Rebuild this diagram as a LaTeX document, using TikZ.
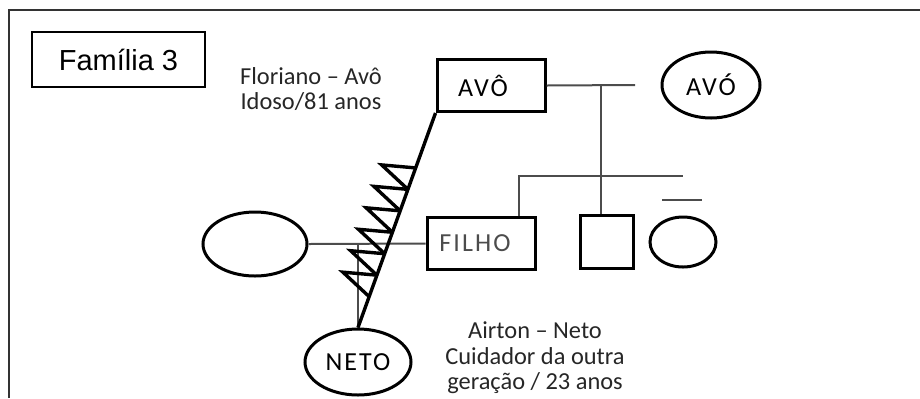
\documentclass[tikz,border=0pt]{standalone}
\usepackage{fontspec}
\setmainfont{Carlito}
\newfontfamily\arialfont{Liberation Sans}
\newfontfamily\labelfont[LetterSpace=8]{Carlito}
\usetikzlibrary{shapes.geometric,calc}

\begin{document}
\begin{tikzpicture}[
    x=0.5pt, y=-0.5pt,
    box/.style={draw, line width=1.5pt, minimum width=54pt, minimum height=26pt,
                inner sep=0pt, font=\labelfont\fontsize{13}{15}\selectfont},
    oval/.style={draw, ellipse, line width=1.5pt, inner sep=0pt,
                 font=\labelfont\fontsize{13}{15}\selectfont},
    rel/.style={draw=black!70, line width=1pt},
    bond/.style={line width=1.7pt},
    info/.style={align=center, text=black!85, font=\fontsize{12.2}{12.8}\selectfont}
]
    \useasboundingbox (0,0) rectangle (920,398);

    % moldura
    \draw[line width=1pt, black!80] (9,398) -- (9,9.5) -- (920,9.5);

    \node[draw, line width=0.6pt, minimum width=86.5pt, minimum height=27.5pt,
          font=\arialfont\fontsize{14.5}{17}\selectfont] (familia) at (118.5,59.5) {Família 3};

    \node[box]  (avo)    at (491,85.5)  {AVÔ\hspace*{8pt}};
    \node[oval, minimum width=49pt, minimum height=33pt] (ava) at (711,85) {AVÓ};
    \node[box, text=black!70] (filho) at (481,243.5) {FILHO\hspace*{6pt}};
    \node[box, minimum width=26.5pt, minimum height=26.5pt] (filho2) at (606.5,241.5) {};
    \node[oval, minimum width=33pt, minimum height=25pt] (filha) at (683,242) {};
    \node[oval, minimum width=52pt, minimum height=32pt] (esposa) at (255,244) {};
    \node[oval, minimum width=53pt, minimum height=33pt] (neto) at (358,362) {NETO};

    \node[info] (infoavo)  at (311,89)  {Floriano -- Avô\\Idoso/81 anos};
    \node[info] (infoneto) at (535,358) {Airton -- Neto\\Cuidador da outra\\geração / 23 anos};

    % casal e descendentes
    \coordinate (cpl)  at (635,85);
    \coordinate (desc) at (601,85);
    \coordinate (sibL) at (519,176);
    \coordinate (sibR) at (683,176);
    \draw[rel] (avo.east) -- (cpl);
    \draw[rel] (desc) -- (desc |- filho2.north);
    \draw[rel] (sibL |- filho.north) -- (sibL) -- (sibR);
    \draw[rel] ($(filha.north)+(-21,-16)$) -- ($(filha.north)+(19,-16)$);

    \draw[rel] (esposa.east) -- (filho.west);
    \draw[rel] (esposa.east -| neto.north) -- (neto.north);

    % relacao avo - neto
    \draw[bond] (avo.south west) -- (neto.north);
    \foreach \i in {0,...,5} {
        \pgfmathsetmacro\ta{0.256+0.1*\i}
        \pgfmathsetmacro\tb{\ta+0.1}
        \draw[bond] ($(avo.south west)!\ta!(neto.north)$) -- ++(-34,-3)
                    -- ($(avo.south west)!\tb!(neto.north)$);
    }
\end{tikzpicture}
\end{document}
